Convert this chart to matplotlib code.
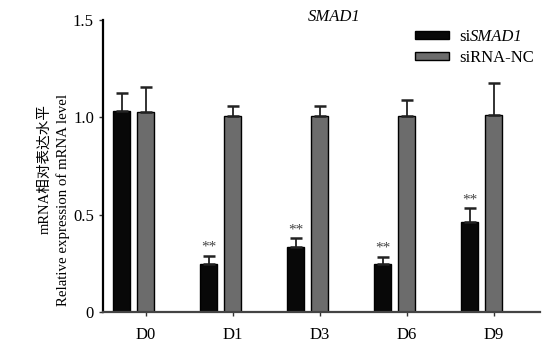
import matplotlib
matplotlib.use("Agg")
import matplotlib.pyplot as plt
from matplotlib.patches import Patch
import numpy as np

plt.rcParams['font.family'] = ['Liberation Serif', 'Noto Sans CJK SC']

days = ["D0", "D1", "D3", "D6", "D9"]
si_smad1 = [1.035, 0.245, 0.335, 0.248, 0.462]
si_smad1_err = [0.092, 0.044, 0.043, 0.035, 0.070]
si_nc = [1.027, 1.005, 1.005, 1.005, 1.013]
si_nc_err = [0.127, 0.051, 0.051, 0.085, 0.162]
stars = ["", "**", "**", "**", "**"]

x = np.arange(len(days))
w = 0.19

fig = plt.figure(figsize=(5.55, 3.52), dpi=100)
ax = fig.add_axes([0.1856, 0.1136, 0.787, 0.8295])

ax.bar(x - 0.275, si_smad1, w, color="#080808", edgecolor="black", linewidth=1.0,
       yerr=[np.zeros(5), si_smad1_err], error_kw=dict(ecolor="#222222", elinewidth=1.3, capsize=4, capthick=1.8))
ax.bar(x, si_nc, w, color="#6c6c6c", edgecolor="black", linewidth=1.0,
       yerr=[np.zeros(5), si_nc_err], error_kw=dict(ecolor="#222222", elinewidth=1.3, capsize=4, capthick=1.8))

for i in range(len(days)):
    if stars[i]:
        ax.text(x[i] - 0.275, si_smad1[i] + si_smad1_err[i] + 0.012, stars[i],
                ha="center", va="bottom", fontsize=11, color="#444444")

ax.set_xlim(-0.49, 4.53)
ax.set_ylim(0, 1.5)
ax.set_yticks([0, 0.5, 1.0, 1.5])
ax.set_yticklabels(["0", "0.5", "1.0", "1.5"])
ax.set_xticks(x)
ax.set_xticklabels(days)
ax.tick_params(axis="both", labelsize=12, length=3, width=1.0, color="#333333")
ax.tick_params(axis="x", pad=8)
ax.spines["top"].set_visible(False)
ax.spines["right"].set_visible(False)
ax.spines["left"].set_linewidth(1.6)
ax.spines["bottom"].set_linewidth(1.6)
ax.spines["bottom"].set_color("#444444")

ax.text(0.53, 1.01, "SMAD1", transform=ax.transAxes, style="italic", ha="center", va="center", fontsize=12)

fig.text(0.081, 0.52, "mRNA相对表达水平", rotation=90, ha="center", va="center", fontsize=10.5)
fig.text(0.114, 0.432, "Relative expression of mRNA level", rotation=90, ha="center", va="center", fontsize=10.7)

handles = [Patch(facecolor="#080808", edgecolor="black"), Patch(facecolor="#6c6c6c", edgecolor="black")]
leg = ax.legend(handles, ["si", "siRNA-NC"], loc="upper right", bbox_to_anchor=(1.02, 1.02),
                frameon=False, fontsize=12, handlelength=2.0, handleheight=0.4, labelspacing=0.28, handletextpad=0.6)

fig.canvas.draw()
bb = leg.get_texts()[0].get_window_extent()
fig.text(bb.x1 / fig.bbox.width, bb.y0 / fig.bbox.height, "SMAD1", style="italic",
         ha="left", va="bottom", fontsize=12)

fig.savefig("out.png", dpi=100)
